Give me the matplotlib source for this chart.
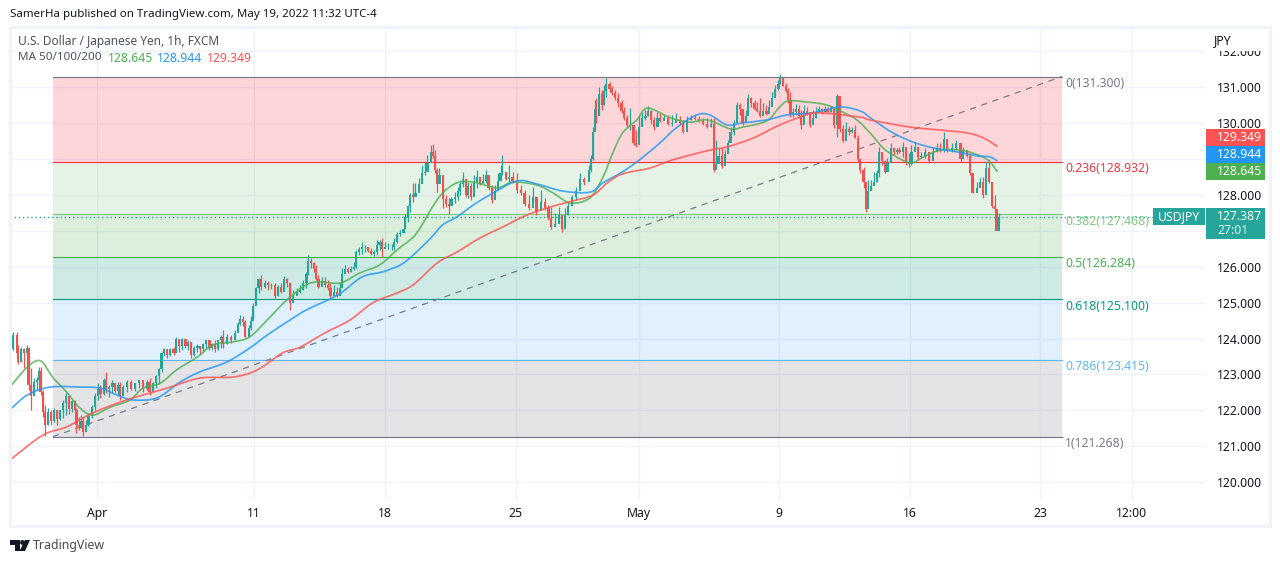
import matplotlib
matplotlib.use("Agg")
import matplotlib.pyplot as plt
from matplotlib.patches import Rectangle, Polygon, Circle, PathPatch
from matplotlib.path import Path

plt.rcParams['font.family'] = ['Noto Sans', 'DejaVu Sans']

# hours counted from the first bar on screen, prices
candle_hour = [
    0, 3, 6, 7, 10, 13, 16, 17, 19, 22, 25, 27, 28, 30, 32, 35, 38, 40, 43, 46,
    49, 51, 54, 57, 60, 61, 63, 65, 67, 70, 72, 75, 78, 81, 83, 86, 88, 91, 94, 96,
    99, 101, 104, 107, 111, 115, 118, 122, 126, 128, 131, 134, 137, 139, 141, 144, 147, 150, 152, 155,
    158, 161, 163, 166, 169, 172, 174, 177, 180, 183, 185, 188, 191, 194, 195, 199, 203, 206, 209, 211,
    214, 216, 219, 221, 223, 226, 228, 230, 234, 237, 239, 243, 246, 249, 251, 254, 257, 260, 263, 266,
    269, 272, 273, 276, 279, 281, 283, 286, 289, 292, 294, 297, 300, 303, 305, 307, 310, 313, 316, 317,
    320, 323, 326, 328, 331, 334, 337, 339, 341, 344, 347, 350, 352, 355, 358, 361, 362, 365, 367, 370,
    372, 375, 378, 381, 383, 386, 388, 390, 392, 394, 397, 400, 403, 405, 408, 411, 413, 416, 418, 420,
    423, 426, 428, 431, 434, 437, 439, 442, 445, 448, 450, 451, 455, 458, 461, 465, 469, 472, 476, 480,
    483, 487, 491, 494, 496, 500, 504, 506, 509, 512, 516, 519, 523, 527, 531, 533, 535, 537, 538, 540,
    543, 545, 547, 550, 552, 555, 558, 561, 563, 566, 569, 572, 574, 577, 580, 583, 585, 588, 591, 594,
    596, 600, 604, 607, 611, 615, 617, 621, 625, 628, 632, 636, 639, 643, 646, 648, 650, 653, 656, 659,
    661, 664, 667, 670, 672, 675, 677, 680, 683, 685, 688, 691, 694, 696, 699, 702, 705, 706, 709, 712,
    714, 716, 718, 721, 724, 726, 728, 731, 734, 737, 739, 742, 745, 748, 750, 753, 756, 759, 761, 764,
    767, 770, 772, 775, 778, 780, 783, 785, 787, 790, 793, 795, 797, 800, 803, 805, 808, 811, 814, 816,
    819, 822, 825, 827, 830, 833, 836, 839, 843, 847, 850, 853, 857, 860, 864, 868, 872, 874, 878, 881,
    883, 887, 890, 893, 895, 898, 901, 904, 905, 907,
]
candle_high = [
    123.96, 124.19, 124.19, 123.82, 123.76, 123.68, 123.82, 123.63, 123.18, 122.9,
    122.92, 123.21, 123.21, 122.57, 122.15, 122.07, 122.02, 122.07, 122.02, 122.02,
    122.29, 122.49, 122.35, 122.29, 122.29, 122.07, 121.82, 121.87, 121.79, 121.74,
    121.93, 122.15, 122.49, 122.76, 122.71, 122.9, 123.07, 122.71, 122.85, 122.71,
    122.79, 122.79, 122.71, 122.85, 122.85, 122.76, 122.85, 122.79, 122.85, 122.9,
    122.79, 122.99, 123.18, 123.63, 123.74, 123.68, 123.74, 123.76, 124.05, 123.96,
    124.02, 123.96, 123.96, 123.91, 123.79, 123.85, 123.79, 123.88, 123.96, 123.91,
    123.88, 123.96, 123.96, 124.1, 124.24, 124.13, 124.1, 124.24, 124.47, 124.66,
    124.63, 124.52, 124.38, 124.63, 125.0, 125.44, 125.69, 125.77, 125.63, 125.61,
    125.55, 125.55, 125.5, 125.55, 125.75, 125.69, 125.58, 125.36, 125.41, 125.5,
    125.63, 125.86, 126.33, 126.25, 126.14, 126.05, 125.77, 125.72, 125.72, 125.63,
    125.55, 125.5, 125.44, 125.55, 125.97, 126.05, 126.0, 126.02, 126.14, 126.47,
    126.55, 126.69, 126.61, 126.55, 126.53, 126.47, 126.75, 126.75, 126.8, 126.69,
    126.67, 126.64, 126.8, 126.97, 127.03, 127.08, 127.47, 127.72, 128.06, 128.34,
    128.34, 128.47, 128.84, 128.92, 129.12, 129.39, 129.42, 129.25, 128.75, 128.75,
    128.47, 128.0, 127.92, 127.95, 128.08, 128.22, 128.36, 128.64, 128.31, 128.36,
    128.34, 128.56, 128.7, 128.5, 128.58, 128.7, 128.53, 128.28, 128.28, 128.61,
    128.84, 129.12, 128.61, 128.84, 128.64, 128.61, 128.28, 128.14, 128.0, 128.22,
    127.86, 128.14, 127.92, 127.72, 127.67, 127.5, 127.67, 127.25, 127.64, 127.81,
    128.0, 128.22, 128.61, 128.5, 128.84, 129.12, 129.89, 130.65, 130.7, 131.01,
    130.93, 131.07, 131.26, 131.15, 131.04, 130.93, 130.84, 130.65, 130.45, 130.23,
    130.42, 129.89, 129.81, 130.23, 130.31, 130.37, 130.48, 130.37, 130.17, 130.31,
    130.29, 130.23, 130.23, 130.23, 130.29, 130.2, 130.09, 130.2, 130.23, 130.23,
    130.2, 130.15, 130.15, 130.15, 130.15, 129.53, 129.31, 129.31, 129.25, 129.53,
    129.89, 130.09, 130.59, 130.56, 130.31, 130.37, 130.81, 130.73, 130.65, 130.59,
    130.7, 130.56, 130.51, 130.65, 130.87, 131.07, 131.2, 131.37, 131.26, 131.12,
    130.98, 130.87, 130.42, 130.54, 130.51, 130.37, 130.51, 130.45, 130.31, 130.37,
    130.45, 130.48, 130.42, 130.48, 130.45, 130.48, 130.37, 130.81, 130.09, 129.95,
    130.03, 129.92, 129.89, 129.95, 129.67, 128.92, 128.78, 128.28, 128.42, 128.42,
    128.64, 128.7, 129.34, 129.2, 128.98, 129.03, 129.45, 129.31, 129.31, 129.34,
    129.48, 129.25, 129.17, 129.39, 129.48, 129.2, 129.2, 129.31, 129.12, 129.34,
    129.45, 129.45, 129.76, 129.45, 129.45, 129.53, 129.25, 129.34, 129.25, 129.17,
    128.5, 128.36, 128.47, 128.5, 128.92, 128.98, 128.34, 128.0, 127.44, 127.5,
]
candle_low = [
    123.63, 123.68, 123.46, 123.3, 123.35, 123.18, 123.18, 122.57, 122.02, 122.51,
    122.57, 122.62, 122.43, 121.82, 121.29, 121.6, 121.6, 121.68, 121.6, 121.74,
    121.79, 121.87, 121.9, 121.96, 121.93, 121.37, 121.46, 121.51, 121.29, 121.51,
    121.57, 121.79, 122.02, 122.29, 122.35, 122.43, 122.49, 122.38, 122.49, 122.51,
    122.43, 122.29, 122.49, 122.51, 122.57, 122.54, 122.62, 122.51, 122.57, 122.43,
    122.51, 122.62, 122.73, 123.07, 123.52, 123.46, 123.52, 123.54, 123.63, 123.63,
    123.68, 123.74, 123.68, 123.46, 123.52, 123.63, 123.57, 123.63, 123.74, 123.68,
    123.68, 123.63, 123.68, 123.74, 123.74, 123.85, 123.88, 123.96, 124.19, 124.38,
    124.35, 124.05, 124.05, 124.24, 124.58, 125.08, 125.27, 125.36, 125.41, 125.36,
    125.39, 125.13, 125.19, 125.27, 125.36, 125.44, 124.8, 125.08, 125.25, 125.27,
    125.36, 125.41, 125.77, 125.97, 125.86, 125.63, 125.41, 125.47, 125.44, 125.36,
    125.16, 125.22, 125.16, 125.22, 125.44, 125.86, 125.83, 125.86, 125.91, 125.97,
    126.33, 126.36, 126.41, 126.41, 126.33, 126.3, 126.33, 126.47, 126.27, 126.53,
    126.5, 126.47, 126.47, 126.67, 126.86, 126.94, 127.08, 127.25, 127.53, 127.81,
    128.0, 128.14, 128.47, 128.56, 128.7, 128.98, 129.03, 128.61, 128.08, 128.42,
    127.64, 127.67, 127.47, 127.75, 127.78, 127.86, 128.0, 128.22, 127.95, 127.92,
    127.86, 128.14, 128.2, 128.28, 128.34, 128.34, 128.14, 127.78, 128.08, 128.25,
    128.5, 128.56, 128.42, 128.36, 128.34, 128.06, 128.0, 127.69, 127.58, 127.81,
    127.44, 127.75, 127.58, 127.3, 127.05, 127.17, 127.3, 126.97, 127.17, 127.44,
    127.72, 127.86, 128.2, 128.28, 128.42, 128.64, 128.98, 129.87, 130.01, 130.23,
    130.37, 130.51, 130.73, 130.87, 130.79, 130.65, 130.45, 130.29, 130.09, 129.87,
    129.81, 129.39, 129.34, 129.67, 129.95, 130.09, 130.2, 129.98, 129.81, 130.09,
    130.03, 130.09, 129.95, 129.92, 130.03, 129.95, 129.73, 130.03, 130.09, 130.09,
    130.03, 129.95, 129.87, 129.89, 128.64, 128.78, 128.98, 128.75, 128.98, 129.25,
    129.59, 129.67, 130.09, 130.23, 129.95, 130.09, 130.31, 130.45, 130.37, 130.31,
    130.17, 130.31, 130.23, 130.42, 130.56, 130.79, 130.93, 131.09, 131.04, 130.87,
    130.56, 130.17, 130.17, 130.23, 130.15, 129.84, 130.26, 130.23, 129.89, 130.09,
    130.15, 130.31, 130.26, 130.31, 130.29, 130.31, 129.87, 129.62, 129.76, 129.48,
    129.67, 129.67, 129.73, 129.59, 128.92, 128.61, 128.2, 127.53, 128.0, 128.14,
    128.28, 128.36, 128.5, 128.84, 128.61, 128.75, 128.92, 129.12, 129.14, 129.17,
    129.06, 128.84, 128.78, 128.84, 129.25, 128.98, 129.03, 129.03, 128.89, 129.12,
    129.2, 129.2, 129.2, 129.2, 129.2, 129.25, 128.92, 129.12, 129.06, 128.56,
    128.06, 128.14, 128.22, 127.92, 128.5, 128.34, 127.64, 127.53, 127.08, 127.22,
]
candle_close = [
    123.7, 124.1, 123.6, 123.35, 123.7, 123.6, 123.75, 122.7, 122.4, 122.8,
    122.85, 123.1, 122.5, 121.95, 121.6, 121.95, 121.7, 122.0, 121.75, 122.0,
    122.2, 122.4, 122.05, 122.25, 122.0, 121.6, 121.5, 121.7, 121.4, 121.6,
    121.85, 122.1, 122.4, 122.6, 122.45, 122.85, 122.6, 122.65, 122.75, 122.55,
    122.7, 122.4, 122.65, 122.8, 122.6, 122.75, 122.85, 122.6, 122.8, 122.5,
    122.75, 122.95, 123.15, 123.6, 123.7, 123.55, 123.7, 123.6, 124.0, 123.8,
    124.0, 123.8, 123.9, 123.55, 123.75, 123.8, 123.7, 123.85, 123.95, 123.75,
    123.85, 123.7, 123.95, 124.05, 123.85, 124.05, 123.95, 124.15, 124.4, 124.55,
    124.45, 124.05, 124.3, 124.5, 124.9, 125.4, 125.65, 125.45, 125.55, 125.5,
    125.5, 125.2, 125.45, 125.3, 125.65, 125.55, 125.0, 125.2, 125.3, 125.35,
    125.55, 125.8, 126.15, 126.1, 125.95, 125.65, 125.45, 125.6, 125.5, 125.4,
    125.2, 125.3, 125.2, 125.4, 125.8, 125.95, 125.85, 125.95, 126.0, 126.4,
    126.5, 126.55, 126.55, 126.45, 126.35, 126.4, 126.6, 126.7, 126.5, 126.55,
    126.55, 126.55, 126.7, 126.9, 126.95, 127.05, 127.4, 127.7, 128.0, 127.95,
    128.05, 128.3, 128.6, 128.65, 128.9, 129.2, 129.1, 128.7, 128.3, 128.55,
    127.9, 127.75, 127.7, 127.9, 127.95, 128.1, 128.3, 128.45, 128.0, 128.25,
    127.95, 128.35, 128.5, 128.3, 128.4, 128.55, 128.2, 127.85, 128.1, 128.4,
    128.6, 128.65, 128.45, 128.5, 128.4, 128.15, 128.05, 127.75, 127.65, 127.95,
    127.55, 127.8, 127.65, 127.35, 127.1, 127.2, 127.45, 127.05, 127.45, 127.7,
    127.95, 128.1, 128.45, 128.35, 128.7, 129.0, 129.75, 130.4, 130.2, 130.8,
    130.5, 130.9, 131.1, 130.95, 130.85, 130.7, 130.55, 130.35, 130.15, 129.95,
    129.95, 129.45, 129.4, 129.9, 130.15, 130.2, 130.35, 130.1, 129.9, 130.15,
    130.05, 130.15, 129.98, 130.0, 130.1, 130.0, 129.75, 130.1, 130.15, 130.12,
    130.05, 129.98, 129.9, 129.98, 128.7, 128.85, 129.1, 128.8, 129.15, 129.45,
    129.75, 130.0, 130.5, 130.4, 130.0, 130.2, 130.7, 130.55, 130.4, 130.35,
    130.2, 130.35, 130.25, 130.45, 130.7, 130.95, 131.1, 131.25, 131.05, 130.9,
    130.65, 130.25, 130.3, 130.4, 130.2, 129.95, 130.35, 130.25, 129.95, 130.15,
    130.3, 130.4, 130.3, 130.4, 130.3, 130.4, 129.95, 130.75, 129.85, 129.5,
    129.85, 129.75, 129.8, 129.6, 129.0, 128.7, 128.35, 127.6, 128.1, 128.25,
    128.35, 128.6, 129.2, 128.95, 128.65, 128.9, 129.3, 129.2, 129.25, 129.2,
    129.35, 128.9, 128.85, 129.2, 129.35, 129.05, 129.1, 129.2, 128.95, 129.2,
    129.3, 129.25, 129.55, 129.25, 129.3, 129.45, 129.0, 129.25, 129.1, 128.6,
    128.05, 128.2, 128.35, 128.0, 128.75, 128.35, 127.7, 127.6, 127.0, 127.39,
]

ma50_hour = [0, 16, 28, 39, 52, 64, 76, 92, 110, 122, 138, 153, 172, 186, 205, 220, 236, 254, 272, 284,
             303, 321, 339, 355, 370, 379, 387, 397, 410, 425, 447, 461, 483, 498, 514, 532, 544, 553, 562, 575,
             585, 606, 624, 640, 661, 672, 694, 706, 714, 731, 749, 764, 777, 789, 801, 810, 826, 838, 853, 872,
             883, 897, 906]
ma50_price = [122.65, 123.21, 123.38, 122.93, 122.51, 122.07, 121.87, 122.09, 122.29, 122.62,
              122.76, 123.13, 123.49, 123.82, 123.91, 124.05, 124.52, 125.08, 125.5, 125.58,
              125.55, 125.83, 126.05, 126.47, 126.83, 127.22, 127.64, 128.06, 128.34, 128.36,
              128.2, 128.36, 128.28, 128.06, 127.78, 127.92, 128.5, 129.17, 129.73, 130.09,
              130.42, 130.15, 130.03, 130.09, 129.84, 129.89, 130.06, 130.45, 130.62, 130.59,
              130.51, 130.31, 130.09, 129.73, 129.31, 129.12, 128.89, 129.06, 129.25, 129.25,
              129.17, 128.98, 128.645]

ma100_hour = [0, 16, 37, 64, 83, 98, 113, 135, 156, 174, 199, 220, 236, 257, 272, 294, 305, 323, 342, 358,
              370, 386, 397, 410, 425, 440, 465, 483, 507, 532, 544, 560, 575, 594, 612, 630, 642, 658, 672, 694,
              713, 737, 761, 780, 792, 810, 828, 847, 869, 887, 899, 906]
ma100_price = [122.02, 122.43, 122.65, 122.65, 122.62, 122.43, 122.29, 122.35, 122.79, 123.07,
               123.35, 123.74, 124.1, 124.52, 124.8, 125.11, 125.3, 125.72, 125.86, 126.05,
               126.33, 126.8, 127.17, 127.39, 127.72, 128.0, 128.39, 128.31, 128.11, 128.08,
               128.34, 128.61, 128.92, 129.39, 129.89, 130.23, 130.23, 129.95, 130.01, 130.09,
               130.23, 130.29, 130.45, 130.34, 130.09, 129.73, 129.48, 129.31, 129.2, 129.09,
               129.06, 128.944]

ma200_hour = [0, 30, 52, 76, 107, 144, 174, 205, 227, 250, 266, 289, 312, 333, 355, 370, 392, 410, 431, 452,
              474, 496, 517, 535, 548, 562, 587, 608, 642, 658, 682, 706, 725, 740, 780, 789, 826, 853, 878, 893,
              906]
ma200_price = [120.62, 121.31, 121.54, 121.93, 122.29, 122.62, 122.9, 122.93, 123.13, 123.6,
               123.76, 124.16, 124.52, 125.0, 125.27, 125.5, 126.11, 126.41, 126.8, 127.11,
               127.44, 127.67, 127.84, 128.0, 128.34, 128.59, 128.75, 128.98, 129.25, 129.34,
               129.59, 129.95, 130.17, 130.29, 130.17, 130.09, 129.89, 129.81, 129.73, 129.59,
               129.349]

fib_ratio = ['0', '0.236', '0.382', '0.5', '0.618', '0.786', '1']
fib_price = [131.300, 128.932, 127.468, 126.284, 125.100, 123.415, 121.268]
fib_color = ['#787b86', '#f23645', '#81c784', '#4caf50', '#089981', '#64b5f6', '#787b86']
fib_start = 39.4
fib_end = 965

price_ticks = [120, 121, 122, 123, 124, 125, 126, 127, 128, 129, 130, 131, 132]
hidden_ticks = [127, 129]  # covered by the price tags in the original
time_ticks = [80, 224, 344, 464, 577, 705.5, 826, 945, 1029]
time_labels = ['Apr', '11', '18', '25', 'May', '9', '16', '23', '12:00']

last_price = 127.387

GREEN = '#26a69a'
RED = '#ef5350'
GRID = '#f0f3fa'
TEXT = '#131722'
GREY = '#4c525e'
FS = 8.8
FS_HEAD = 8.3

W, H = 1280, 563
fig = plt.figure(figsize=(W / 100, H / 100), dpi=100, facecolor='white')

# main pane, pixels 10..1206 by 28..500
ax = fig.add_axes([10 / W, 1 - 500 / H, 1196 / W, 472 / H])
ax.set_xlim(0, 1097.2)
ax.set_ylim(119.504, 132.652)
for s in ax.spines.values():
    s.set_visible(False)
ax.yaxis.tick_right()
ax.set_yticks(price_ticks)
ax.set_yticklabels(['' if p in hidden_ticks else '%.3f' % p for p in price_ticks], fontsize=FS, color=TEXT)
ax.set_xticks(time_ticks)
ax.set_xticklabels(time_labels, fontsize=FS, color=TEXT)
ax.tick_params(axis='both', length=0)
ax.tick_params(axis='y', pad=8)
ax.tick_params(axis='x', pad=5)
ax.grid(True, color=GRID, lw=1)
ax.set_axisbelow(True)

# fib bands and levels
for i in range(len(fib_price) - 1):
    ax.fill_between([fib_start, fib_end], fib_price[i + 1], fib_price[i],
                    color=fib_color[i + 1] if i < 5 else '#787b86', alpha=0.2, lw=0, zorder=1)
for i in range(len(fib_price)):
    ax.plot([fib_start, fib_end], [fib_price[i], fib_price[i]], color=fib_color[i], lw=0.85, zorder=2)
    ax.annotate('%s(%.3f)' % (fib_ratio[i], fib_price[i]), xy=(fib_end, fib_price[i]),
                xytext=(2.5, -5), textcoords='offset points', ha='left', va='center',
                fontsize=FS, color=fib_color[i], zorder=6)

# trend line between the two fib anchors
ax.plot([fib_start, fib_end], [fib_price[-1], fib_price[0]], color='#787b86', lw=0.9,
        dashes=(5, 4.5), zorder=2)

# last price line
ax.axhline(last_price, xmax=(1153 - 10) / 1196, color=GREEN, lw=1, ls=(0, (1, 2)), zorder=3)

# candles
candle_open = [123.9] + candle_close[:-1]
for i in range(len(candle_hour)):
    up = candle_close[i] >= candle_open[i]
    col = GREEN if up else RED
    ax.vlines(candle_hour[i], candle_low[i], candle_high[i], color=col, lw=0.9, zorder=4)
    ax.bar(candle_hour[i], abs(candle_close[i] - candle_open[i]), bottom=min(candle_open[i], candle_close[i]),
           width=1.9, color=col, lw=0, zorder=4)


# moving averages are drawn as a bezier through the read points so they stay round
def add_ma(hours, prices, color):
    verts = [(hours[0], prices[0])]
    codes = [Path.MOVETO]
    n = len(hours)
    for i in range(n - 1):
        a = max(i - 1, 0)
        b = min(i + 2, n - 1)
        verts.append((hours[i] + (hours[i + 1] - hours[a]) / 6, prices[i] + (prices[i + 1] - prices[a]) / 6))
        verts.append((hours[i + 1] - (hours[b] - hours[i]) / 6, prices[i + 1] - (prices[b] - prices[i]) / 6))
        verts.append((hours[i + 1], prices[i + 1]))
        codes += [Path.CURVE4, Path.CURVE4, Path.CURVE4]
    ax.add_patch(PathPatch(Path(verts, codes), fc='none', ec=color, lw=1.25, alpha=0.8, zorder=5))


add_ma(ma50_hour, ma50_price, '#4caf50')
add_ma(ma100_hour, ma100_price, '#2196f3')
add_ma(ma200_hour, ma200_price, '#ff5252')

# overlay in pixels for the chrome around the pane
ov = fig.add_axes([0, 0, 1, 1], facecolor='none')
ov.set_xlim(0, W)
ov.set_ylim(H, 0)
ov.axis('off')

ov.add_patch(Rectangle((10, 27), 1260, 499, fill=False, ec=GRID, lw=2.2))
ov.text(10, 14, 'SamerHa published on TradingView.com, May 19, 2022 11:32 UTC-4',
        fontsize=FS_HEAD, color=TEXT, va='center')
ov.text(18, 41, 'U.S. Dollar / Japanese Yen, 1h, FXCM', fontsize=8.55, color=GREY, va='center')
ov.text(18, 58, 'MA 50/100/200', fontsize=8.4, color=GREY, va='center')
ov.text(108, 58, '128.645', fontsize=FS, color='#4caf50', va='center')
ov.text(157, 58, '128.944', fontsize=FS, color='#2196f3', va='center')
ov.text(207, 58, '129.349', fontsize=FS, color='#ff5252', va='center')

# JPY label sits over the top of the 132 tick
ov.add_patch(Rectangle((1207, 29), 60, 21.5, fc='white', ec='none'))
ov.text(1214, 41, 'JPY', fontsize=FS, color=TEXT, va='center')

# price tags on the axis
for y0, col, txt in [(129, '#ff5252', '129.349'), (146, '#2196f3', '128.944'), (163, '#4caf50', '128.645')]:
    ov.add_patch(Rectangle((1206, y0), 59, 17, fc=col, ec='none'))
    ov.text(1217, y0 + 8.5, txt, fontsize=FS, color='white', va='center')
ov.add_patch(Rectangle((1206, 208), 59, 31, fc=GREEN, ec='none'))
ov.text(1217, 216, '127.387', fontsize=FS, color='white', va='center')
ov.text(1217, 231, '27:01', fontsize=FS, color='white', alpha=0.85, va='center')
ov.add_patch(Rectangle((1153, 208), 52, 17, fc=GREEN, ec='none'))
ov.text(1179, 216.5, 'USDJPY', fontsize=FS, color='white', ha='center', va='center')

# logo
ov.add_patch(Polygon([(10, 540), (20, 540), (20, 551), (15, 551), (15, 545), (10, 545)], fc='#131722', ec='none'))
ov.add_patch(Circle((22.5, 542.5), 2.4, fc='#131722', ec='none'))
ov.add_patch(Polygon([(25, 540), (30, 540), (25, 551), (19.5, 551)], fc='#131722', ec='none'))
ov.text(33, 545.5, 'TradingView', fontsize=8.9, color='#4a4a4a', va='center')

fig.savefig('out.png', dpi=100)
